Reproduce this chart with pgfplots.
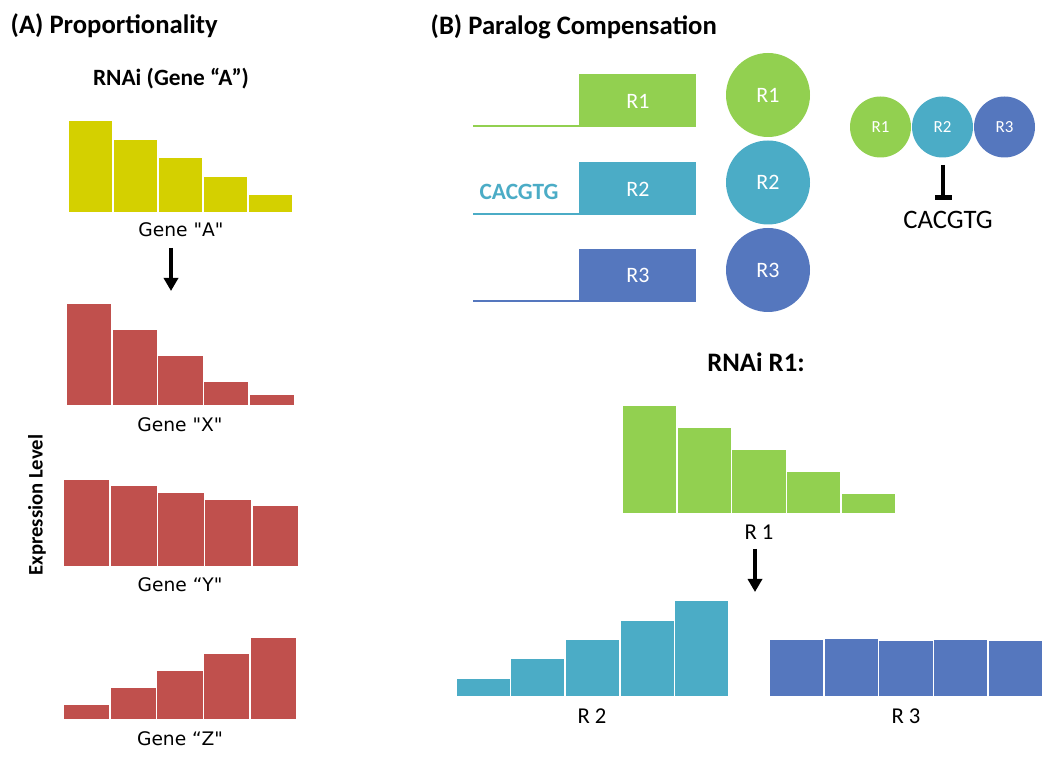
\documentclass[border=0pt]{standalone}
\usepackage{pgfplots}
\pgfplotsset{compat=1.18}
\usepackage{fontspec}
\setmainfont{Carlito}
\newfontfamily\dejavu{DejaVu Sans}
\usetikzlibrary{arrows.meta}

\definecolor{ylw}{RGB}{212,208,0}
\definecolor{rred}{RGB}{192,80,77}
\definecolor{rgreen}{RGB}{146,208,80}
\definecolor{rteal}{RGB}{75,172,198}
\definecolor{rblue}{RGB}{85,119,190}

% one small bar chart, 1 data unit = 1 px of the reference
\pgfplotsset{minibar/.style={
  scale only axis, hide axis, ybar, bar width=1, bar shift=0pt,
  xmin=0.5, xmax=5.5, ymin=0, ymax=120, height=90pt,
  enlargelimits=false, clip=false, anchor=south west}}
\tikzset{barstyle/.style={draw=white, line width=1.1pt, fill=#1}}

\begin{document}
\begin{tikzpicture}[x=0.75pt, y=0.75pt]
\path[use as bounding box] (0,0) rectangle (1050,768);

% anchor points of the small charts (lower left corner of the bars)
\coordinate (pA) at (68,555);
\coordinate (pX) at (66,362);
\coordinate (pY) at (63,201);
\coordinate (pZ) at (63,48);
\coordinate (p1) at (622,254);
\coordinate (p2) at (456,71);
\coordinate (p3) at (769,71);

% ---------- (A) Proportionality ----------
\node[anchor=base west, font=\bfseries\fontsize{20}{24}\selectfont] at (6,734) {(A) Proportionality};
\node[anchor=base, font=\bfseries\fontsize{17.5}{21}\selectfont] at (171,682) {RNAi (Gene “A”)};

\begin{axis}[minibar, at={(pA)}, width=168.75pt]
\addplot[barstyle=ylw] coordinates {(1,93)(2,74)(3,56)(4,37)(5,19)};
\end{axis}
\node[anchor=base, font=\dejavu\fontsize{14}{17}\selectfont] at (181,531) {Gene "A"};

\draw[line width=3.5pt, -{Triangle[length=9.75pt, width=10.5pt]}] (171,520) -- (171,477);

\begin{axis}[minibar, at={(pX)}, width=171.75pt]
\addplot[barstyle=rred] coordinates {(1,103)(2,77)(3,51)(4,25)(5,12)};
\end{axis}
\node[anchor=base, font=\dejavu\fontsize{14}{17}\selectfont] at (180,336) {Gene "X"};

\begin{axis}[minibar, at={(pY)}, width=177pt]
\addplot[barstyle=rred] coordinates {(1,88)(2,82)(3,75)(4,68)(5,62)};
\end{axis}
\node[anchor=base, font=\dejavu\fontsize{14}{17}\selectfont] at (180,176) {Gene “Y"};

\begin{axis}[minibar, at={(pZ)}, width=175.5pt]
\addplot[barstyle=rred] coordinates {(1,16)(2,33)(3,50)(4,67)(5,83)};
\end{axis}
\node[anchor=base, font=\dejavu\fontsize{14}{17}\selectfont] at (180,22) {Gene “Z"};

\node[rotate=90, font=\bfseries\fontsize{15.5}{19}\selectfont] at (37,263) {Expression Level};

% ---------- (B) Paralog Compensation ----------
\node[anchor=base west, font=\bfseries\fontsize{20}{24}\selectfont] at (426,733) {(B) Paralog Compensation};

% gene models
\fill[rgreen] (579,694) rectangle (696,641);
\draw[rgreen, line width=1.5pt] (473,641.8) -- (579,641.8);
\node[anchor=base, text=white, font=\fontsize{16.5}{20}\selectfont] at (638,659) {R1};

\fill[rteal] (579,606) rectangle (696,553);
\draw[rteal, line width=1.5pt] (473,553.8) -- (579,553.8);
\node[anchor=base, text=white, font=\fontsize{16.5}{20}\selectfont] at (638,571) {R2};
\node[anchor=base, text=rteal, font=\bfseries\fontsize{17.5}{21}\selectfont] at (519,568) {CACGTG};

\fill[rblue] (579,519) rectangle (696,466);
\draw[rblue, line width=1.5pt] (473,466.8) -- (579,466.8);
\node[anchor=base, text=white, font=\fontsize{16.5}{20}\selectfont] at (638,485) {R3};

% proteins
\fill[rgreen] (768,673) circle[radius=42];
\node[text=white, font=\fontsize{16.5}{20}\selectfont] at (768,673) {R1};
\fill[rteal] (768,585.5) circle[radius=42];
\node[text=white, font=\fontsize{16.5}{20}\selectfont] at (768,585.5) {R2};
\fill[rblue] (768,498) circle[radius=42];
\node[text=white, font=\fontsize{16.5}{20}\selectfont] at (768,498) {R3};

% complex
\fill[rgreen] (880.5,641) circle[radius=30.5];
\node[text=white, font=\fontsize{12.7}{15}\selectfont] at (880.5,641) {R1};
\fill[rteal] (942.5,641) circle[radius=30.5];
\node[text=white, font=\fontsize{12.7}{15}\selectfont] at (942.5,641) {R2};
\fill[rblue] (1004.5,641) circle[radius=30.5];
\node[text=white, font=\fontsize{12.7}{15}\selectfont] at (1004.5,641) {R3};
\draw[line width=3pt] (943,603) -- (943,571);
\draw[line width=3.6pt] (935,570.5) -- (952,570.5);
\node[anchor=base, font=\fontsize{20}{24}\selectfont] at (948,539) {CACGTG};

% RNAi R1
\node[anchor=base, font=\bfseries\fontsize{20}{24}\selectfont] at (756,396) {RNAi R1:};

\begin{axis}[minibar, at={(p1)}, width=205.5pt]
\addplot[barstyle=rgreen] coordinates {(1,109)(2,87)(3,65)(4,43)(5,21)};
\end{axis}
\node[anchor=base, font=\fontsize{17}{20}\selectfont] at (759,228) {R 1};

\draw[line width=3.5pt, -{Triangle[length=9.75pt, width=10.5pt]}] (755,219) -- (755,176);

\begin{axis}[minibar, at={(p2)}, width=204.75pt]
\addplot[barstyle=rteal] coordinates {(1,19)(2,39)(3,58)(4,77)(5,97)};
\end{axis}
\node[anchor=base, font=\fontsize{17}{20}\selectfont] at (592,45) {R 2};

\begin{axis}[minibar, at={(p3)}, width=205.5pt]
\addplot[barstyle=rblue] coordinates {(1,58)(2,59)(3,57)(4,58)(5,57)};
\end{axis}
\node[anchor=base, font=\fontsize{17}{20}\selectfont] at (906,45) {R 3};
\end{tikzpicture}
\end{document}
